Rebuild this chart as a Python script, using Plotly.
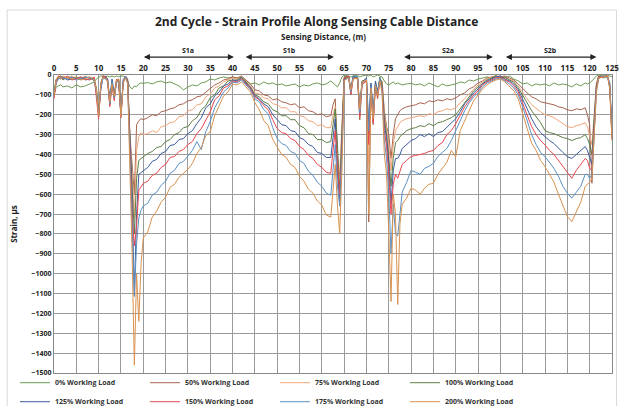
import plotly.graph_objects as go

# ---------------- data ----------------
distance = (
    [0, 0.5, 1, 1.5, 2, 3, 4, 5, 6, 7, 8, 9, 9.5, 10, 10.5, 11, 11.5, 12, 12.5, 13, 13.5, 14,
     14.5, 15, 15.5, 16, 16.5, 17, 17.5, 18, 18.5, 19, 19.5, 20]
    + list(range(21, 63))
    + [62.5, 63, 63.5, 64, 64.5, 65, 66, 66.5, 67, 68, 68.5, 69, 70, 70.5, 71, 71.5, 72, 72.5,
       73, 73.5, 74, 74.5, 75, 75.5, 76, 76.5, 77, 77.5, 78]
    + list(range(79, 120))
    + [119.5, 120, 120.5, 121, 121.5, 122, 123, 124, 124.5, 125]
)

wl_0 = [
    -100, -60, -55, -50, -60, -55, -65, -50, -60, -55, -45, -35, -20, -10, -5, -5, -10, -5, -10, -5, -10, -5,
    -8, -5, -5, -10, -30, -60, -70, -55, -60, -45, -40, -42,
    -38, -45, -35, -30, -40, -35, -45, -55, -75, -60, -50, -55, -40, -35, -20, -25, -15, -10, -15, -10,
    -15, -10, -30, -45, -40, -50, -35, -45, -40, -50, -45, -55, -50, -45, -60, -50, -55, -45, -40, -50, -45, -30,
    -40, -50, -60, -40, -10, 0, -5, -10, -5, 0, -10, -5, 0, -5, 0, -10, -5, 0, -5, -10, -30, -45, -50, -40,
    -35, -45, -40, -45, -50,
    -45, -42, -50, -45, -55, -40, -50, -60, -45, -55, -50, -45, -35, -40, -25, -30, -20, -15, -10, -15, -5,
    -10, -15, -5, -20, -30, -45, -40, -55, -45, -50, -45, -55, -40, -50, -45, -50, -60, -45, -55, -40,
    -45, -40, -30, -15, -5, 0, -5, 0, -5, -10,
]
wl_50 = [
    -110, -30, -10, -5, -15, -20, -10, -15, -20, -10, -15, -20, -80, -210, -60, -5, -10, -20, -150, -40, -120, -30,
    -20, -210, -30, -5, -20, -300, -450, -600, -250, -230, -220, -225,
    -215, -200, -205, -185, -180, -170, -165, -150, -145, -130, -125, -110, -105, -85, -70, -50, -40, -25, -20, -10,
    -15, -5, -25, -45, -75, -80, -100, -105, -125, -120, -135, -140, -150, -145, -165, -160, -180, -185, -200, -195,
    -210, -205,
    -150, -120, -400, -660, -300, -20, -5, -100, -20, -10, -226, -50, -30, -740, -80, -250, -60, -120, -20, -30,
    -180, -260, -300, -420, -300, -220, -200, -180, -170,
    -160, -155, -150, -140, -145, -130, -135, -125, -130, -120, -125, -115, -100, -90, -70, -60, -40, -30, -15, -10,
    -5, -10, -5, -15, -25, -45, -70, -90, -110, -120, -135, -140, -145, -150, -160, -165, -175, -180, -170, -175,
    -165,
    -200, -250, -545, -300, -60, -5, -10, -5, -60, -327,
]
wl_75 = [
    -90, -25, -5, -10, -20, -15, -5, -20, -15, -5, -20, -25, -60, -190, -50, -10, -5, -25, -140, -30, -110, -25,
    -30, -200, -20, -10, -30, -320, -500, -720, -380, -310, -290, -300,
    -295, -280, -290, -260, -255, -240, -235, -210, -205, -180, -175, -150, -145, -110, -95, -65, -55, -35, -25, -15,
    -20, -10, -30, -55, -90, -95, -115, -120, -145, -150, -165, -165, -185, -185, -205, -210, -230, -235, -255, -250,
    -265, -265,
    -200, -160, -450, -500, -250, -15, -10, -90, -15, -5, -200, -40, -20, -450, -60, -230, -50, -100, -15, -40,
    -200, -280, -350, -480, -350, -280, -260, -240, -230,
    -220, -215, -210, -205, -210, -195, -200, -185, -180, -170, -175, -165, -140, -120, -95, -70, -50, -35, -20, -10,
    -10, -5, -15, -20, -30, -55, -90, -120, -150, -170, -185, -200, -205, -215, -230, -245, -260, -265, -255, -250,
    -240,
    -260, -300, -350, -200, -40, -10, -5, -10, -50, -310,
]
wl_100 = [
    -80, -20, -10, -5, -25, -10, -15, -10, -20, -15, -10, -30, -70, -200, -40, -5, -15, -30, -130, -40, -100, -40,
    -25, -190, -40, -5, -40, -340, -560, -800, -520, -430, -420, -410,
    -395, -385, -365, -360, -335, -325, -300, -290, -265, -260, -230, -215, -175, -155, -115, -100, -65, -55, -30, -25,
    -25, -10, -35, -60, -100, -110, -135, -145, -175, -185, -205, -205, -225, -225, -255, -265, -295, -300, -325, -325,
    -340, -335,
    -250, -170, -350, -580, -280, -10, -5, -80, -10, -15, -180, -30, -25, -300, -50, -200, -40, -90, -10, -50,
    -220, -300, -420, -560, -420, -340, -330, -310, -300,
    -280, -270, -265, -255, -260, -245, -255, -240, -235, -225, -215, -200, -170, -135, -110, -80, -60, -40, -25, -15,
    -5, -15, -10, -25, -35, -65, -100, -140, -180, -210, -240, -280, -290, -295, -305, -315, -320, -330, -320, -315,
    -300,
    -320, -350, -400, -220, -50, -5, -15, -5, -70, -300,
]
wl_125 = [
    -100, -35, -15, -20, -10, -25, -20, -15, -10, -25, -20, -15, -90, -180, -70, -10, -5, -20, -120, -20, -90, -30,
    -35, -205, -30, -15, -25, -360, -620, -1110, -700, -500, -490, -480,
    -465, -435, -425, -395, -385, -355, -350, -325, -320, -295, -280, -245, -215, -165, -145, -105, -85, -55, -45, -25,
    -30, -15, -40, -65, -105, -120, -145, -160, -200, -225, -250, -255, -280, -285, -315, -325, -350, -360, -390, -395,
    -415, -415,
    -330, -220, -500, -620, -350, -20, -10, -70, -5, -10, -160, -35, -15, -250, -40, -180, -30, -80, -20, -60,
    -250, -320, -450, -650, -480, -420, -420, -400, -370,
    -350, -330, -320, -300, -310, -295, -310, -290, -285, -265, -245, -220, -185, -145, -120, -90, -70, -45, -30, -20,
    -10, -5, -20, -30, -45, -75, -120, -170, -220, -260, -290, -310, -330, -345, -370, -390, -411, -420, -400, -380,
    -360,
    -380, -420, -450, -250, -60, -15, -5, -10, -40, -280,
]
wl_150 = [
    -120, -30, -5, -15, -20, -5, -25, -20, -10, -20, -25, -10, -100, -220, -50, -5, -10, -35, -160, -50, -130, -20,
    -40, -215, -35, -10, -35, -400, -700, -860, -760, -580, -560, -545,
    -535, -505, -495, -465, -450, -415, -410, -385, -375, -350, -335, -295, -270, -225, -185, -125, -105, -65, -55, -30,
    -35, -20, -45, -70, -110, -125, -155, -175, -225, -270, -290, -295, -320, -330, -360, -375, -405, -420, -450, -465,
    -490, -495,
    -380, -280, -450, -600, -380, -15, -5, -95, -15, -20, -210, -45, -30, -350, -70, -240, -55, -110, -25, -70,
    -280, -360, -500, -700, -550, -500, -520, -480, -450,
    -430, -410, -405, -400, -395, -385, -380, -355, -340, -300, -280, -245, -200, -160, -130, -100, -80, -50, -35, -25,
    -15, -10, -25, -35, -55, -85, -140, -200, -260, -300, -330, -352, -380, -400, -430, -460, -495, -520, -480, -450,
    -420,
    -430, -470, -480, -280, -70, -10, -10, -5, -55, -320,
]
wl_175 = [
    -90, -40, -20, -10, -15, -20, -10, -25, -20, -10, -15, -25, -85, -195, -60, -15, -20, -25, -145, -35, -115, -35,
    -30, -200, -25, -5, -40, -420, -760, -1115, -850, -720, -680, -660,
    -645, -605, -590, -555, -535, -495, -480, -445, -435, -405, -380, -335, -375, -285, -235, -165, -125, -85, -65, -35,
    -40, -25, -50, -75, -120, -135, -175, -195, -265, -320, -345, -355, -385, -395, -430, -445, -485, -505, -540, -560,
    -595, -605,
    -480, -350, -560, -660, -400, -25, -15, -85, -10, -5, -190, -40, -20, -280, -55, -210, -45, -95, -15, -80,
    -330, -420, -600, -900, -650, -800, -810, -700, -590,
    -540, -480, -490, -500, -470, -460, -444, -410, -390, -370, -330, -280, -230, -180, -140, -110, -90, -60, -40, -30,
    -20, -15, -30, -45, -65, -100, -160, -230, -300, -350, -390, -411, -440, -470, -510, -560, -595, -620, -590, -560,
    -500,
    -500, -520, -500, -300, -80, -20, -5, -15, -45, -290,
]
wl_200 = [
    -105, -25, -10, -20, -5, -15, -20, -10, -25, -20, -10, -20, -75, -205, -45, -10, -15, -30, -135, -45, -105, -25,
    -20, -210, -40, -15, -45, -450, -900, -1460, -1000, -1240, -950, -820,
    -790, -715, -685, -640, -615, -565, -550, -515, -494, -475, -445, -395, -365, -305, -285, -205, -155, -105, -85, -45,
    -50, -35, -60, -85, -140, -175, -230, -255, -325, -365, -400, -415, -450, -465, -510, -535, -575, -595, -635, -655,
    -705, -715,
    -600, -450, -660, -795, -480, -30, -10, -75, -20, -15, -170, -35, -25, -700, -65, -220, -50, -105, -30, -90,
    -400, -500, -800, -1140, -600, -700, -1155, -750, -650,
    -620, -570, -580, -600, -570, -550, -545, -500, -470, -440, -380, -411, -280, -230, -180, -130, -100, -70, -50, -35,
    -25, -20, -35, -55, -80, -120, -200, -270, -344, -380, -430, -461, -500, -540, -600, -660, -713, -738, -690, -640,
    -560,
    -550, -540, -520, -320, -90, -15, -10, -5, -65, -330,
]

series_names = ["0% Working Load", "50% Working Load", "75% Working Load", "100% Working Load",
                "125% Working Load", "150% Working Load", "175% Working Load", "200% Working Load"]
series_values = [wl_0, wl_50, wl_75, wl_100, wl_125, wl_150, wl_175, wl_200]
series_colors = ["#6f9a55", "#a8644e", "#f2a679", "#5d7f45", "#3b5c9c", "#e9464f", "#5b91c4", "#d9924f"]

section_names = ["S1a", "S1b", "S2a", "S2b"]
section_start = [19.8, 42.6, 78.1, 100.9]
section_end = [40.3, 62.7, 98.3, 121.5]

x_ticks = list(range(0, 126, 5))
y_ticks = list(range(-1500, 1, 100))

for v in series_values:
    assert len(v) == len(distance), (len(v), len(distance))

# ---------------- figure ----------------
fig = go.Figure()
for name, vals, col in zip(series_names, series_values, series_colors):
    fig.add_trace(go.Scatter(x=distance, y=vals, mode="lines", name=name,
                             line=dict(color=col, width=1)))

font_fam = "Open Sans"
fig.update_layout(
    width=623, height=406,
    margin=dict(l=54, r=11, t=75, b=33, autoexpand=False),
    paper_bgcolor="white", plot_bgcolor="white",
    font=dict(family=font_fam, size=8, color="#222"),
    showlegend=True,
    legend=dict(orientation="h", x=-0.07, xanchor="left", y=-0.145, yanchor="bottom",
                entrywidth=85, entrywidthmode="pixels",
                font=dict(size=7, family=font_fam, weight="bold", color="#333"),
                itemwidth=30, tracegroupgap=0, bgcolor="rgba(0,0,0,0)"),
    xaxis=dict(side="top", range=[0, 125], tickvals=x_ticks, ticks="",
               showgrid=True, gridcolor="#9a9a9a", gridwidth=1,
               showline=True, linecolor="#888", mirror=True, zeroline=False,
               tickfont=dict(size=8, family=font_fam, weight="bold", color="#222")),
    yaxis=dict(range=[-1500, 0], tickvals=y_ticks, ticks="",
               showgrid=True, gridcolor="#9a9a9a", gridwidth=1,
               showline=True, linecolor="#888", mirror=True, zeroline=False,
               tickfont=dict(size=7, family=font_fam, weight="bold", color="#222"),
               title=dict(text="Strain, µs", standoff=12,
                          font=dict(size=8, family=font_fam, weight="bold", color="#222"))),
)

fig.add_annotation(text="2nd Cycle - Strain Profile Along Sensing Cable Distance",
                   xref="paper", yref="paper", x=0.47, y=1.18, xanchor="center", yanchor="middle",
                   showarrow=False, font=dict(size=12, family=font_fam, weight="bold", color="#222"))
fig.add_annotation(text="Sensing Distance, (m)",
                   xref="paper", yref="paper", x=0.483, y=1.128, xanchor="center", yanchor="middle",
                   showarrow=False, font=dict(size=8, family=font_fam, weight="bold", color="#222"))

for nm, s, e in zip(section_names, section_start, section_end):
    fig.add_annotation(x=e, ax=s, xref="x", axref="x", y=1.06, yref="paper", ay=0, ayref="pixel",
                       text="", showarrow=True, arrowhead=2, arrowside="end+start",
                       arrowsize=1, arrowwidth=1.2, arrowcolor="#222")
    fig.add_annotation(x=(s + e) / 2, xref="x", y=1.081, yref="paper", text=nm, showarrow=False,
                       yanchor="middle", font=dict(size=7, family=font_fam, weight="bold", color="#222"))

fig.add_shape(type="rect", xref="paper", yref="paper", x0=-0.084, x1=1.008, y0=-0.2, y1=1.218,
              line=dict(color="#d8d8d8", width=1), fillcolor="rgba(0,0,0,0)", layer="below")

fig.write_html("out.html", config={"displayModeBar": False},
               post_script="document.body.style.margin='0';document.body.style.overflow='hidden';")
